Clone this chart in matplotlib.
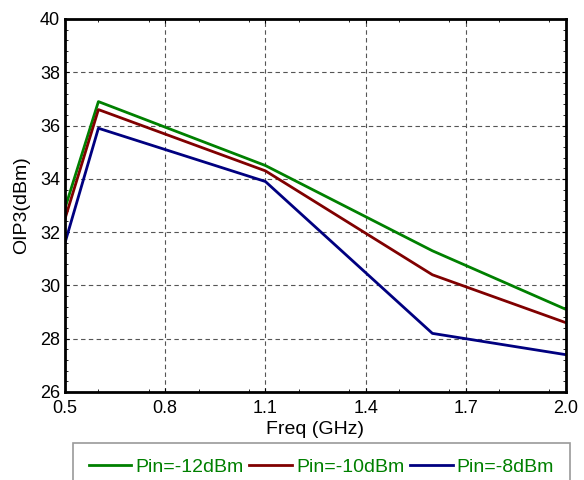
import matplotlib
matplotlib.use("Agg")
import matplotlib.pyplot as plt
from matplotlib.ticker import MultipleLocator

plt.rcParams['font.family'] = ['Liberation Sans', 'DejaVu Sans']

freq = [0.5, 0.6, 1.1, 1.6, 2.0]
oip3_m12 = [32.9, 36.9, 34.5, 31.3, 29.1]
oip3_m10 = [32.5, 36.6, 34.3, 30.4, 28.6]
oip3_m8 = [31.6, 35.9, 33.9, 28.2, 27.4]
labels = ["Pin=-12dBm", "Pin=-10dBm", "Pin=-8dBm"]
colors = ["#008000", "#800000", "#000080"]

fig = plt.figure(figsize=(5.84, 4.8), dpi=100)
ax = fig.add_axes([65 / 584, 1 - 392 / 480, 501 / 584, 373 / 480])

for y, lab, c in zip([oip3_m12, oip3_m10, oip3_m8], labels, colors):
    ax.plot(freq, y, color=c, lw=2, label=lab)

ax.set_xlim(0.5, 2.0)
ax.set_ylim(26, 40)
ax.set_xticks([0.5, 0.8, 1.1, 1.4, 1.7, 2.0])
ax.set_xticklabels(["0.5", "0.8", "1.1", "1.4", "1.7", "2.0"])
ax.set_yticks(range(26, 41, 2))
ax.xaxis.set_minor_locator(MultipleLocator(0.15))
ax.yaxis.set_minor_locator(MultipleLocator(0.4))
ax.tick_params(which='both', direction='in', top=True, right=True, labelsize=13)
ax.tick_params(axis='x', which='major', pad=6)
ax.tick_params(which='major', length=3)
ax.tick_params(which='minor', length=2)
ax.grid(True, which='major', ls='--', color='#555555', lw=0.8, dashes=(4, 3))
for s in ax.spines.values():
    s.set_linewidth(2)

ax.set_xlabel("Freq (GHz)", fontsize=14, labelpad=3)
ax.set_ylabel("OIP3(dBm)", fontsize=14, labelpad=7)

leg = fig.legend(loc='upper left', bbox_to_anchor=(73 / 584, 1 - 443 / 480), ncol=3,
                 fontsize=14, frameon=True, fancybox=False, edgecolor='#808080',
                 handlelength=2.2, handletextpad=0.2, columnspacing=0.3,
                 borderpad=0.8, borderaxespad=0)
leg.get_frame().set_linewidth(1.2)
for t in leg.get_texts():
    t.set_color("#008000")

fig.savefig("out.png", dpi=100)
